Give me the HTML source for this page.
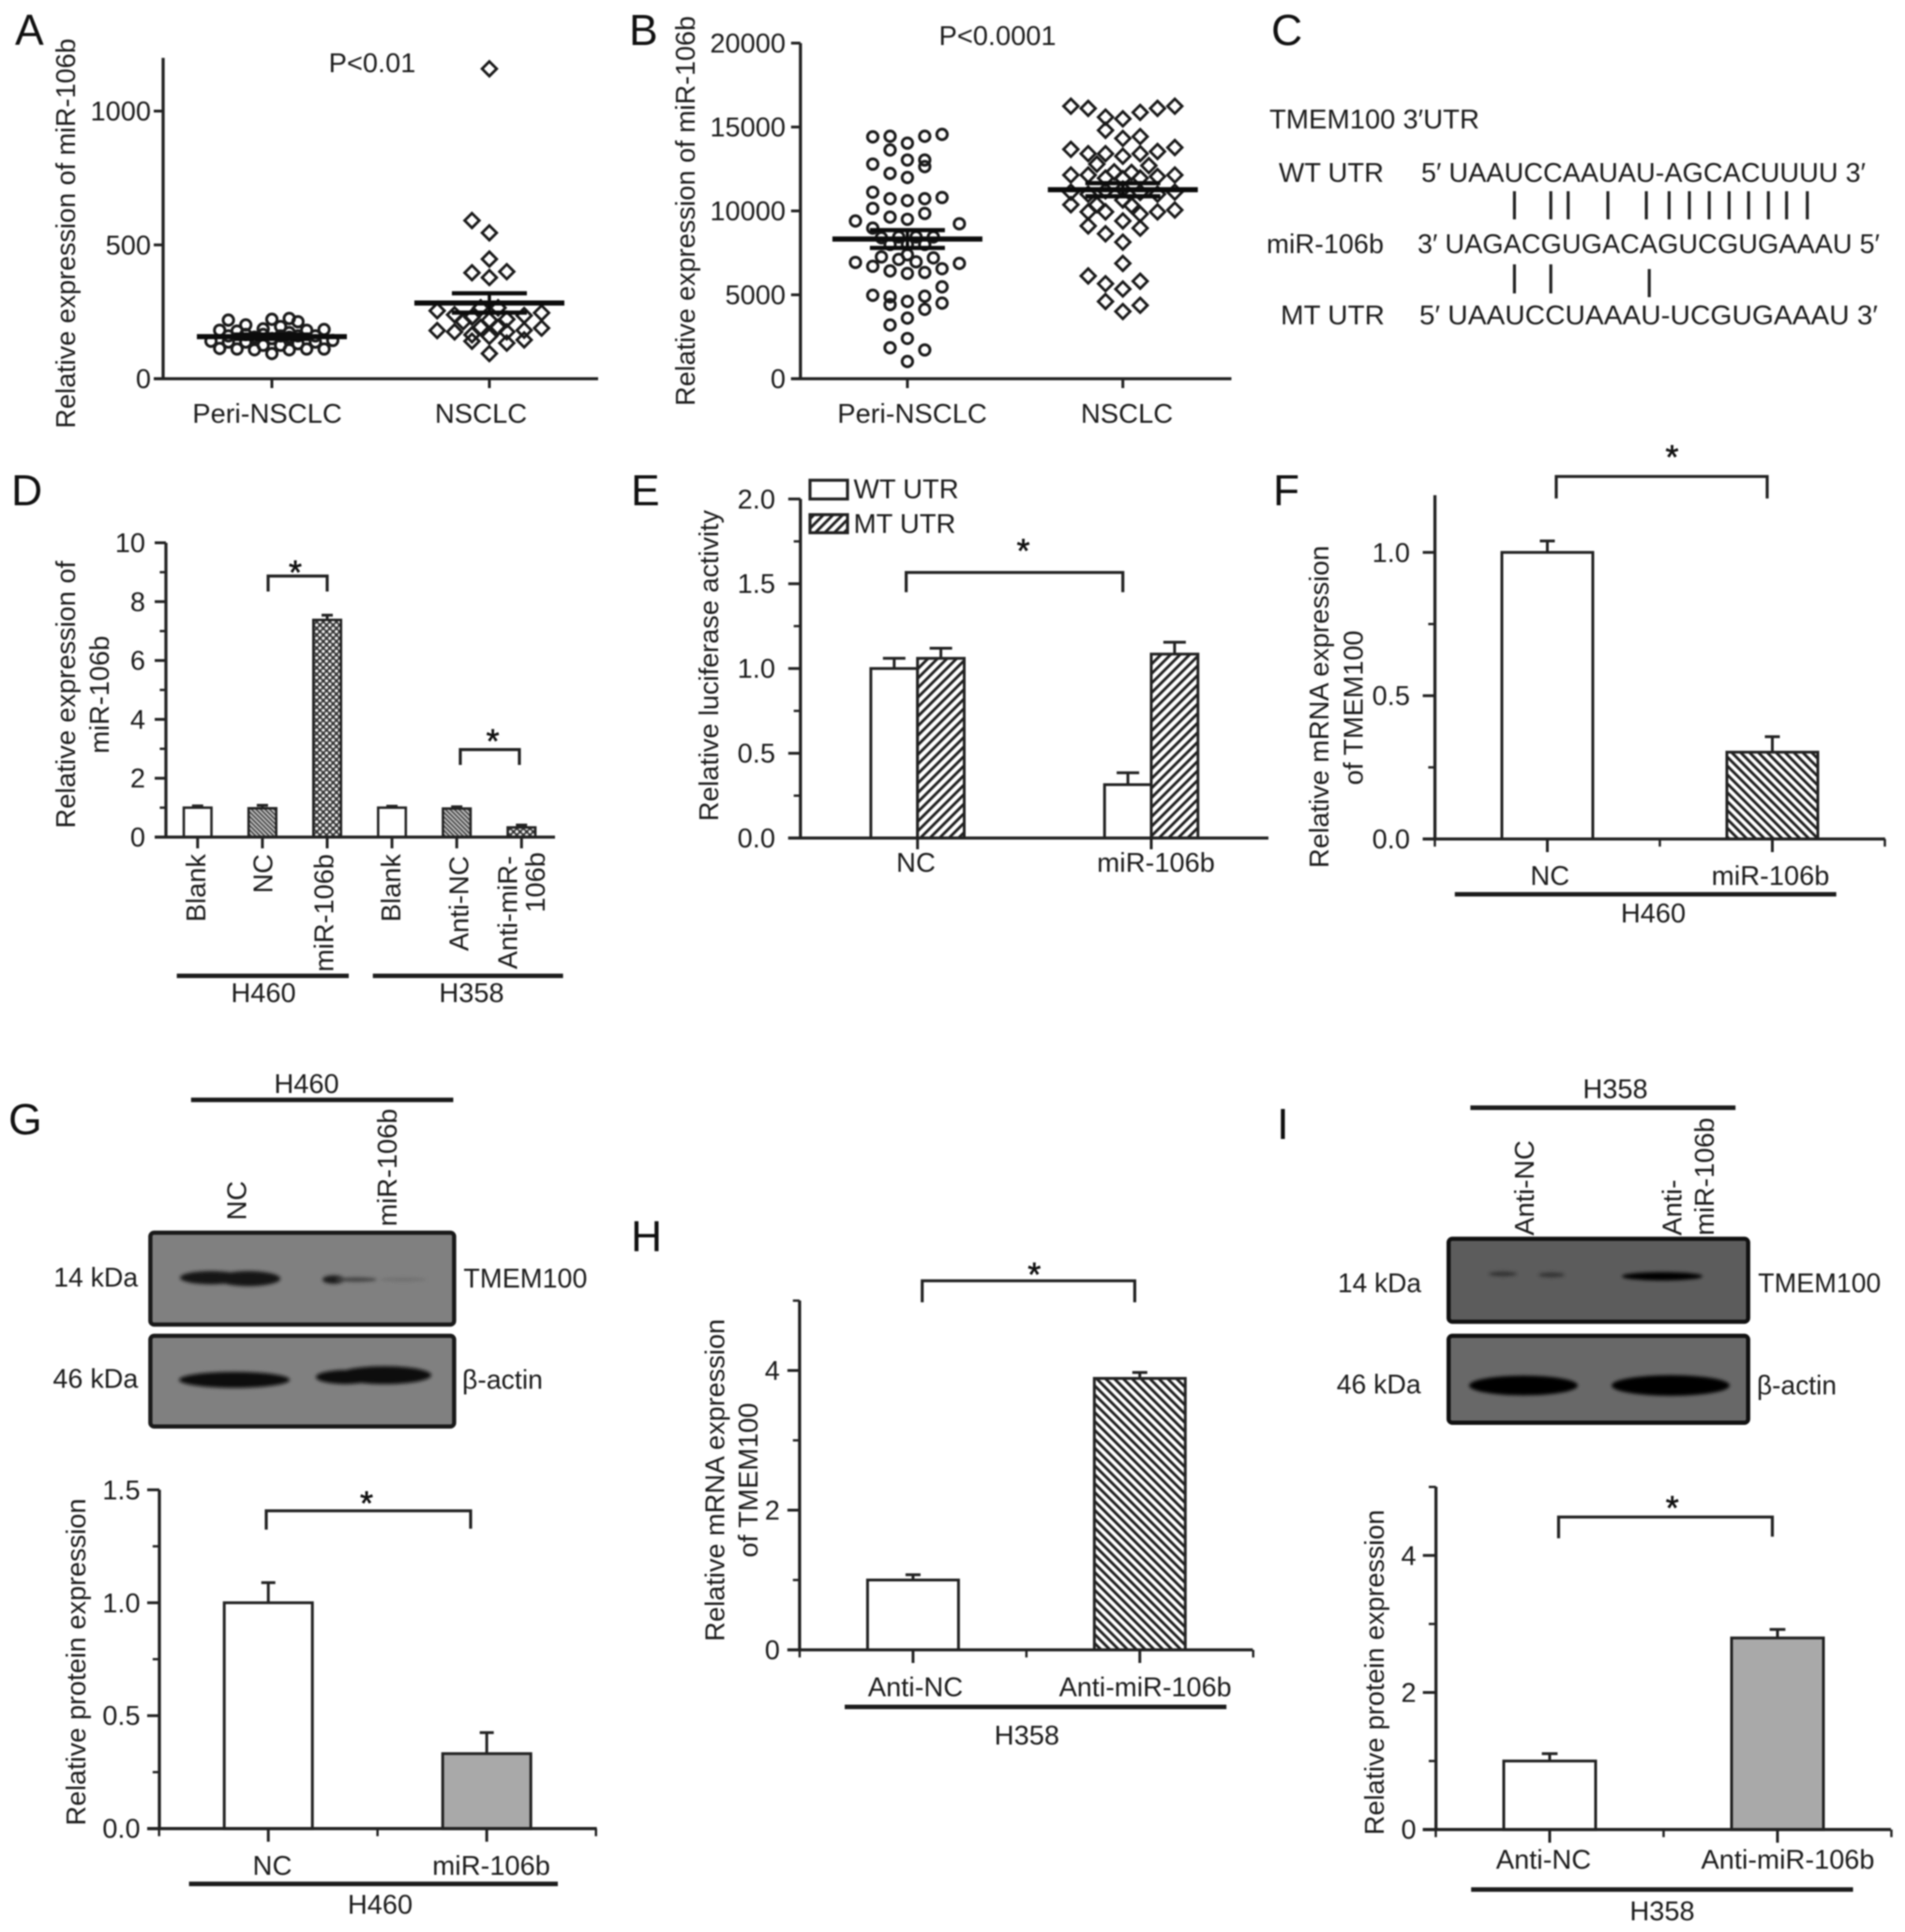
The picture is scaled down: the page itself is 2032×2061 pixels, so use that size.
<!DOCTYPE html>
<html lang="en">
<head>
<meta charset="utf-8">
<title>miR-106b and TMEM100 expression figure</title>
<style>
html,body{margin:0;padding:0;background:#fff;}
body{width:2032px;height:2061px;overflow:hidden;}
svg{display:block;filter:blur(0.75px);}
text{font-family:"Liberation Sans",sans-serif;font-size:29px;fill:#1c1c1c;}
.letter{font-size:46px;fill:#111;}
.star{font-size:36px;fill:#111;stroke:#111;stroke-width:0.6;}
.ln{stroke:#222;stroke-width:3.2;fill:none;}
.group-line{stroke:#1c1c1c;stroke-width:4.8;fill:none;}
.blot1{fill:#808080;stroke:#1a1a1a;stroke-width:4.5;}
.blot2{fill:#5c5c5c;stroke:#111;stroke-width:4.5;}
.blot3{fill:#686868;stroke:#111;stroke-width:4.5;}
</style>
</head>
<body>
<svg id="figure" xmlns="http://www.w3.org/2000/svg" width="2032" height="2061" viewBox="0 0 2032 2061">
<defs>
<pattern id="hatch-back" patternUnits="userSpaceOnUse" width="6.7" height="6.7" patternTransform="rotate(-45)"><rect width="6.7" height="6.7" fill="#fff"/><rect width="3" height="6.7" fill="#222"/></pattern>
<pattern id="hatch-fwd" patternUnits="userSpaceOnUse" width="7.2" height="7.2" patternTransform="rotate(45)"><rect width="7.2" height="7.2" fill="#fff"/><rect width="3" height="7.2" fill="#222"/></pattern>
<pattern id="hatch-fine" patternUnits="userSpaceOnUse" width="3.4" height="3.4" patternTransform="rotate(-45)"><rect width="3.4" height="3.4" fill="#c8c8c8"/><rect width="1.7" height="3.4" fill="#444"/></pattern>
<pattern id="checker" patternUnits="userSpaceOnUse" width="7" height="7"><rect width="7" height="7" fill="#3a3a3a"/><circle cx="1.8" cy="1.8" r="1.7" fill="#ececec"/><circle cx="5.3" cy="5.3" r="1.7" fill="#ececec"/></pattern>
<filter id="band-blur" x="-30%" y="-100%" width="160%" height="300%"><feGaussianBlur stdDeviation="1.8"/></filter>
</defs>

<!-- Panel letters -->
<text class="letter" x="16" y="48">A</text>
<text class="letter" x="671" y="48">B</text>
<text class="letter" x="1356" y="48">C</text>
<text class="letter" x="12" y="539">D</text>
<text class="letter" x="673" y="539">E</text>
<text class="letter" x="1358" y="539">F</text>
<text class="letter" x="9" y="1210">G</text>
<text class="letter" x="673" y="1335">H</text>
<text class="letter" x="1362" y="1215">I</text>

<!-- Panel A static text -->
<g id="panel-a">
<text transform="rotate(-90 80 249)" x="80" y="249" text-anchor="middle" textLength="416" lengthAdjust="spacingAndGlyphs">Relative expression of miR-106b</text>
<text x="397" y="77" text-anchor="middle">P&lt;0.01</text>
<text x="285" y="451" text-anchor="middle">Peri-NSCLC</text>
<text x="513" y="451" text-anchor="middle">NSCLC</text>
</g>

<!-- Panel B static text -->
<g id="panel-b">
<text transform="rotate(-90 741 225)" x="741" y="225" text-anchor="middle" textLength="416" lengthAdjust="spacingAndGlyphs">Relative expression of miR-106b</text>
<text x="1064" y="48" text-anchor="middle">P&lt;0.0001</text>
<text x="973" y="451" text-anchor="middle">Peri-NSCLC</text>
<text x="1202" y="451" text-anchor="middle">NSCLC</text>
</g>

<!-- Panel C sequence alignment -->
<g id="panel-c">
<text x="1354" y="137" textLength="224" lengthAdjust="spacingAndGlyphs">TMEM100 3′UTR</text>
<text x="1364" y="194" textLength="112" lengthAdjust="spacingAndGlyphs">WT UTR</text>
<text x="1516" y="194" textLength="474" lengthAdjust="spacingAndGlyphs">5′ UAAUCCAAUAU-AGCACUUUU 3′</text>
<text x="1351" y="270" textLength="125" lengthAdjust="spacingAndGlyphs">miR-106b</text>
<text x="1512" y="270" textLength="493" lengthAdjust="spacingAndGlyphs">3′ UAGACGUGACAGUCGUGAAAU 5′</text>
<text x="1366" y="346" textLength="111" lengthAdjust="spacingAndGlyphs">MT UTR</text>
<text x="1514" y="346" textLength="489" lengthAdjust="spacingAndGlyphs">5′ UAAUCCUAAAU-UCGUGAAAU 3′</text>
<path class="ln" d="M1615.4 204V234M1654.2 204V234M1672.7 204V234M1715.1 204V234M1756.1 204V234M1780.4 204V234M1802 204V234M1823.2 204V234M1844.4 204V234M1865.2 204V234M1886.3 204V234M1905.7 204V234M1927.8 204V234"/>
<path class="ln" d="M1615.4 282V313M1654.2 282V313M1759.2 287V317"/>
</g>

<!-- Panel D static -->
<g id="panel-d">
<text transform="rotate(-90 80 741)" x="80" y="741" text-anchor="middle">Relative expression of</text>
<text transform="rotate(-90 116 741)" x="116" y="741" text-anchor="middle">miR-106b</text>
<text transform="rotate(-90 219 911)" x="219" y="911" text-anchor="end">Blank</text>
<text transform="rotate(-90 290.5 911)" x="290.5" y="911" text-anchor="end">NC</text>
<text transform="rotate(-90 355.6 911)" x="355.6" y="911" text-anchor="end">miR-106b</text>
<text transform="rotate(-90 427 911)" x="427" y="911" text-anchor="end">Blank</text>
<text transform="rotate(-90 499.6 913)" x="499.6" y="913" text-anchor="end">Anti-NC</text>
<text transform="rotate(-90 551.6 913)" x="551.6" y="913" text-anchor="end">Anti-miR-</text>
<text transform="rotate(-90 581 909)" x="581" y="909" text-anchor="end">106b</text>
<path class="group-line" d="M188.6 1041H372"/>
<path class="group-line" d="M397.7 1041H600.6"/>
<text x="281" y="1069" text-anchor="middle">H460</text>
<text x="503" y="1069" text-anchor="middle">H358</text>
<path class="ln" d="M286 631V614.5H349V631"/>
<text class="star" x="315" y="623" text-anchor="middle">*</text>
<path class="ln" d="M491 816V799.6H554V816"/>
<text class="star" x="525.6" y="803" text-anchor="middle">*</text>
</g>

<!-- Panel E static -->
<g id="panel-e">
<text transform="rotate(-90 766 710)" x="766" y="710" text-anchor="middle" textLength="332" lengthAdjust="spacingAndGlyphs">Relative luciferase activity</text>
<text x="977" y="930" text-anchor="middle">NC</text>
<text x="1233" y="930" text-anchor="middle">miR-106b</text>
<rect x="864" y="512.3" width="40" height="20" fill="#fff" stroke="#222" stroke-width="3.2"/>
<text x="910.5" y="531.7">WT UTR</text>
<rect x="864" y="549" width="40" height="19.3" fill="url(#hatch-fwd)" stroke="#222" stroke-width="3.2"/>
<text x="910.5" y="568.3">MT UTR</text>
<path class="ln" d="M966.6 631.7V610.7H1197.7V631.7"/>
<text class="star" x="1091.5" y="600" text-anchor="middle">*</text>
</g>

<!-- Panel F static -->
<g id="panel-f">
<text transform="rotate(-90 1417 754)" x="1417" y="754" text-anchor="middle" textLength="344" lengthAdjust="spacingAndGlyphs">Relative mRNA expression</text>
<text transform="rotate(-90 1453.4 755)" x="1453.4" y="755" text-anchor="middle" textLength="165" lengthAdjust="spacingAndGlyphs">of TMEM100</text>
<text x="1653.3" y="944" text-anchor="middle">NC</text>
<text x="1888.5" y="944" text-anchor="middle">miR-106b</text>
<path class="group-line" d="M1551.8 954H1958.7"/>
<text x="1763.5" y="984" text-anchor="middle">H460</text>
<path class="ln" d="M1660 531.7V508.3H1885V531.7"/>
<text class="star" x="1783.5" y="500" text-anchor="middle">*</text>
</g>

<!-- Panel G blot -->
<g id="panel-g-blot">
<text x="327" y="1166" text-anchor="middle">H460</text>
<path class="group-line" d="M203.8 1173.3H483.5"/>
<text transform="rotate(-90 262.4 1301.7)" x="262.4" y="1301.7">NC</text>
<text transform="rotate(-90 422.8 1308.3)" x="422.8" y="1308.3">miR-106b</text>
<rect class="blot1" x="160.4" y="1315" width="324" height="98" rx="4"/>
<rect class="blot1" x="160.4" y="1425" width="324" height="96.7" rx="4"/>
<g filter="url(#band-blur)">
<ellipse cx="225" cy="1363" rx="33" ry="7" fill="#121212"/>
<ellipse cx="265" cy="1364" rx="34" ry="8" fill="#121212"/>
<ellipse cx="356" cy="1365" rx="12" ry="4.5" fill="#1a1a1a"/>
<ellipse cx="380" cy="1365" rx="22" ry="2.5" fill="#444"/>
<ellipse cx="430" cy="1365" rx="25" ry="2" fill="#6f6f6f"/>
</g>
<g filter="url(#band-blur)">
<ellipse cx="250" cy="1472" rx="59" ry="8.5" fill="#0e0e0e"/>
<ellipse cx="368" cy="1469" rx="31" ry="7.5" fill="#0e0e0e"/>
<ellipse cx="410" cy="1467" rx="50" ry="9.5" fill="#0e0e0e"/>
</g>
<text x="57.2" y="1372.7" textLength="90" lengthAdjust="spacingAndGlyphs">14 kDa</text>
<text x="56.4" y="1480.7" textLength="91" lengthAdjust="spacingAndGlyphs">46 kDa</text>
<text x="494.4" y="1373.3" textLength="132" lengthAdjust="spacingAndGlyphs">TMEM100</text>
<text x="493" y="1481.7" textLength="86" lengthAdjust="spacingAndGlyphs">β-actin</text>
</g>

<!-- Panel G bar static -->
<g id="panel-g">
<text transform="rotate(-90 91 1773)" x="91" y="1773" text-anchor="middle" textLength="349" lengthAdjust="spacingAndGlyphs">Relative protein expression</text>
<text x="290.5" y="2000" text-anchor="middle">NC</text>
<text x="524" y="2000" text-anchor="middle">miR-106b</text>
<path class="group-line" d="M201.6 2009.7H595"/>
<text x="405.5" y="2041.7" text-anchor="middle">H460</text>
<path class="ln" d="M284 1631.7V1611.7H502V1630.7"/>
<text class="star" x="391" y="1616" text-anchor="middle">*</text>
</g>

<!-- Panel H static -->
<g id="panel-h">
<text transform="rotate(-90 772.5 1579)" x="772.5" y="1579" text-anchor="middle" textLength="344" lengthAdjust="spacingAndGlyphs">Relative mRNA expression</text>
<text transform="rotate(-90 808 1579)" x="808" y="1579" text-anchor="middle" textLength="165" lengthAdjust="spacingAndGlyphs">of TMEM100</text>
<text x="976.5" y="1809.3" text-anchor="middle">Anti-NC</text>
<text x="1221.6" y="1809.3" text-anchor="middle" textLength="184" lengthAdjust="spacingAndGlyphs">Anti-miR-106b</text>
<path class="group-line" d="M901 1820.9H1308.2"/>
<text x="1095.3" y="1861" text-anchor="middle">H358</text>
<path class="ln" d="M983.7 1389.3V1366.3H1210.4V1389.3"/>
<text class="star" x="1103.3" y="1372" text-anchor="middle">*</text>
</g>

<!-- Panel I blot -->
<g id="panel-i-blot">
<text x="1723" y="1171.7" text-anchor="middle">H358</text>
<path class="group-line" d="M1568.4 1181.7H1851.2"/>
<text transform="rotate(-90 1636 1318)" x="1636" y="1318">Anti-NC</text>
<text transform="rotate(-90 1793.4 1318)" x="1793.4" y="1318">Anti-</text>
<text transform="rotate(-90 1828 1318)" x="1828" y="1318">miR-106b</text>
<rect class="blot2" x="1545.2" y="1321.5" width="319.5" height="88.5" rx="4"/>
<rect class="blot3" x="1545.2" y="1425" width="319.5" height="92.7" rx="4"/>
<g filter="url(#band-blur)">
<ellipse cx="1603" cy="1359" rx="15" ry="2.5" fill="#333"/>
<ellipse cx="1655" cy="1360" rx="14" ry="2.5" fill="#333"/>
<ellipse cx="1773" cy="1361.5" rx="43" ry="4.5" fill="#050505"/>
</g>
<g filter="url(#band-blur)">
<ellipse cx="1625" cy="1478" rx="58" ry="10.5" fill="#000"/>
<ellipse cx="1782" cy="1478" rx="63" ry="11" fill="#000"/>
</g>
<text x="1427" y="1378.3" textLength="89" lengthAdjust="spacingAndGlyphs">14 kDa</text>
<text x="1425.7" y="1486.7" textLength="90" lengthAdjust="spacingAndGlyphs">46 kDa</text>
<text x="1875.3" y="1378.3" textLength="131" lengthAdjust="spacingAndGlyphs">TMEM100</text>
<text x="1874" y="1487.3" textLength="85" lengthAdjust="spacingAndGlyphs">β-actin</text>
</g>

<!-- Panel I bar static -->
<g id="panel-i">
<text transform="rotate(-90 1476 1784)" x="1476" y="1784" text-anchor="middle" textLength="347" lengthAdjust="spacingAndGlyphs">Relative protein expression</text>
<text x="1646.5" y="1993.3" text-anchor="middle">Anti-NC</text>
<text x="1907" y="1993.3" text-anchor="middle" textLength="185" lengthAdjust="spacingAndGlyphs">Anti-miR-106b</text>
<path class="group-line" d="M1569.2 2015.7H1976.6"/>
<text x="1773" y="2048.3" text-anchor="middle">H358</text>
<path class="ln" d="M1662.5 1641V1618.3H1890.5V1639.3"/>
<text class="star" x="1783.7" y="1621" text-anchor="middle">*</text>
</g>
</svg>

<script>
/* ---------- Panel A data ---------- */
const aPeriValues = [219,201,222,225,213,181,178,186,195,172,181,184,113,111,108,94,108,111,111,140,137,137,125,125,131,137,143,155,150,155,165,160,165,160,160,160];
const aPeriColumns = [-5,-3,0,2,3,-6,-4,-1,1,2,4,6,-6,-4,-2,0,2,4,6,-7,-5,-3,-1,1,3,5,7,-2,0,2,-1,1,-3,3,-5,5];
const aTumorValues = [1158,591,545,447,396,400,378,254,246,239,236,230,222,219,213,265,265,180,175,189,181,192,192,164,175,158,140,133,145,94];
const aTumorColumns = [0,-2,0,0,-2,2,0,-6,6,-4,4,-2,2,0,-3,-1,1,-6,-4,6,4,-1,1,-2,2,0,-2,2,4,0];
const aSummaryMean = [157,283];
const aSummarySem = [8,36];
const aTickValues = [0,500,1000];
const aTickLabels = ['0','500','1000'];

/* ---------- Panel B data ---------- */
const bPeriValues = [14413,14450,14040,14450,14560,13630,12790,13035,13035,12640,12235,11990,11115,10725,10615,10725,10800,10150,9630,9500,9850,9400,9235,8975,8400,8450,8450,8450,8000,8000,8000,7260,7110,7390,6965,7200,6930,6700,6870,6555,6425,6275,6330,5475,4970,4880,4915,4600,4415,4505,4135,3610,3200,2400,1845,1715,1025];
const bPeriColumns = [-4,-2,0,2,4,-2,-4,0,2,2,-2,0,-4,-2,0,2,4,-4,-2,0,2,-6,6,-4,-3,-1,1,3,-2,0,2,-3,-1,0,1,3,-6,-4,6,4,-2,0,2,4,-4,-2,2,0,-2,4,2,0,-2,0,-2,2,0];
const bTumorValues = [16240,16110,15590,15490,15870,16110,16240,14805,14320,14430,13670,13410,13410,13260,13410,13540,13780,12790,12700,12140,12140,12330,12290,11955,11920,11955,12050,12140,11120,11120,11000,11200,11300,11100,11000,10370,10370,10650,10335,9945,9945,9815,9945,10055,9105,9400,8975,8640,8140,6870,6125,5660,5810,5345,4600,4375,4005];
const bTumorColumns = [-6,-4,-2,0,2,4,6,-2,0,2,-6,-4,-2,0,2,4,6,-3,3,-6,-4,-1,1,-2,0,2,4,6,-6,6,-4,-2,0,2,4,-6,-3,0,1,-4,-2,2,4,6,-4,0,2,-2,0,0,-4,-2,2,0,-2,2,0];
const bSummaryMean = [8324,11266];
const bSummarySem = [530,390];
const bTickValues = [0,5000,10000,15000,20000];
const bTickLabels = ['0','5000','10000','15000','20000'];

/* ---------- Panel D data ---------- */
const dCategories = ['Blank H460','NC','miR-106b','Blank H358','Anti-NC','Anti-miR-106b'];
const dValues = [1.0,0.98,7.38,1.0,0.97,0.33];
const dErrors = [0.06,0.10,0.16,0.05,0.06,0.08];
const dFills = ['#fff','url(#hatch-fine)','url(#checker)','#fff','url(#hatch-fine)','url(#checker)'];
const dTickValues = [0,2,4,6,8,10];
const dTickLabels = ['0','2','4','6','8','10'];
const dMinorValues = [1,3,5,7,9];

/* ---------- Panel E data ---------- */
const eCategories = ['NC','miR-106b'];
const eWtValues = [1.0,0.315];
const eWtErrors = [0.06,0.07];
const eMtValues = [1.06,1.085];
const eMtErrors = [0.06,0.07];
const eTickValues = [0,0.5,1,1.5,2];
const eTickLabels = ['0.0','0.5','1.0','1.5','2.0'];
const eMinorValues = [0.25,0.75,1.25,1.75];

/* ---------- Panel F data ---------- */
const fCategories = ['NC','miR-106b'];
const fValues = [1.0,0.303];
const fErrors = [0.04,0.054];
const fFills = ['#fff','url(#hatch-back)'];
const fTickValues = [0,0.5,1];
const fTickLabels = ['0.0','0.5','1.0'];
const fMinorValues = [0.25,0.75];

/* ---------- Panel G data ---------- */
const gCategories = ['NC','miR-106b'];
const gValues = [1.0,0.332];
const gErrors = [0.089,0.093];
const gFills = ['#fff','#a9a9a9'];
const gTickValues = [0,0.5,1,1.5];
const gTickLabels = ['0.0','0.5','1.0','1.5'];
const gMinorValues = [0.25,0.75,1.25];

/* ---------- Panel H data ---------- */
const hCategories = ['Anti-NC','Anti-miR-106b'];
const hValues = [1.0,3.887];
const hErrors = [0.075,0.085];
const hFills = ['#fff','url(#hatch-back)'];
const hTickValues = [0,2,4];
const hTickLabels = ['0','2','4'];
const hMinorValues = [1,3,5];

/* ---------- Panel I data ---------- */
const iCategories = ['Anti-NC','Anti-miR-106b'];
const iValues = [1.0,2.796];
const iErrors = [0.108,0.124];
const iFills = ['#fff','#a9a9a9'];
const iTickValues = [0,2,4];
const iTickLabels = ['0','2','4'];
const iMinorValues = [1,3,5];

const SVG_NS = 'http://www.w3.org/2000/svg';
const INK = '#222';

function slug(s){ return String(s).toLowerCase().replace(/[^a-z0-9]+/g,'-'); }
function linearY(y0, yRef, vRef){ const k = (y0 - yRef) / vRef; return function(v){ return y0 - v * k; }; }
function make(tag, attrs, parent){
  const node = document.createElementNS(SVG_NS, tag);
  for (const key in attrs) node.setAttribute(key, attrs[key]);
  parent.appendChild(node);
  return node;
}

function drawAxes(panelId, c){
  const g = document.getElementById(panelId);
  const yLine = make('line', {x1:c.axisX, x2:c.axisX, y1:c.top, y2:c.y(0), stroke:INK, 'stroke-width':3.3}, g);
  
  
  const xLine = make('line', {x1:c.axisX - c.tick, x2:c.right, y1:c.y(0), y2:c.y(0), stroke:INK, 'stroke-width':3.3}, g);
  
  
  c.tickValues.forEach(function(v, i){
    const t = make('line', {x1:c.axisX - c.tick, x2:c.axisX, y1:c.y(v), y2:c.y(v), stroke:INK, 'stroke-width':3}, g);
    
    
    if (i < c.tickLabels.length){
      const label = make('text', {x:c.labelRight, y:c.y(v) + 10, 'text-anchor':'end'}, g);
      label.textContent = c.tickLabels[i];
      
      
    }
  });
  (c.minorValues || []).forEach(function(v){
    const t = make('line', {x1:c.axisX - c.tick * 0.55, x2:c.axisX, y1:c.y(v), y2:c.y(v), stroke:INK, 'stroke-width':2.5}, g);
    
    
  });
  for (let i = 0; i < c.count; i++){
    const x = c.x(i);
    const t = make('line', {x1:x, x2:x, y1:c.y(0), y2:c.y(0) + c.xTick, stroke:INK, 'stroke-width':3}, g);
    
    
  }
  if (c.halfTicks){
    for (let i = 0; i <= c.count; i++){
      const x = c.x(i - 0.5);
      const t = make('line', {x1:x, x2:x, y1:c.y(0), y2:c.y(0) + c.xTick * 0.58, stroke:INK, 'stroke-width':2.5}, g);
      
      
    }
  }
}

function drawBar(g, panelId, name, left, width, value, error, fill, capHalf, yFn, strokeW){
  const mid = left + width / 2;
  const stem = make('line', {x1:mid, x2:mid, y1:yFn(value), y2:yFn(value + error), stroke:INK, 'stroke-width':3}, g);
  
  
  const cap = make('line', {x1:mid - capHalf, x2:mid + capHalf, y1:yFn(value + error), y2:yFn(value + error), stroke:INK, 'stroke-width':3}, g);
  
  
  const bar = make('rect', {x:left, y:yFn(value), width:width, height:yFn(0) - yFn(value), fill:fill, stroke:INK, 'stroke-width':strokeW}, g);
  
  
}

function drawBars(panelId, c, categories, values, errors, fills){
  const g = document.getElementById(panelId);
  categories.forEach(function(cat, i){
    drawBar(g, panelId, cat, c.x(i) - c.barWidth / 2, c.barWidth, values[i], errors[i], fills[i], c.cap, c.y, c.barStroke);
  });
}

function drawSwarm(panelId, groupName, shape, center, slot, yFn, values, columns){
  const g = document.getElementById(panelId);
  values.forEach(function(v, i){
    const cx = center + columns[i] * slot;
    const cy = yFn(v);
    let mark;
    if (shape === 'circle'){
      mark = make('circle', {cx:cx, cy:cy, r:5.6, fill:'none', stroke:'#1a1a1a', 'stroke-width':3}, g);
    } else {
      const d = 7.8;
      mark = make('polygon', {points:(cx)+','+(cy-d)+' '+(cx+d)+','+cy+' '+cx+','+(cy+d)+' '+(cx-d)+','+cy, fill:'none', stroke:'#1a1a1a', 'stroke-width':2.9}, g);
    }
    
    
  });
}

function drawSummary(panelId, groupName, center, yFn, mean, sem){
  const g = document.getElementById(panelId);
  const m = make('line', {x1:center - 80, x2:center + 80, y1:yFn(mean), y2:yFn(mean), stroke:'#0c0c0c', 'stroke-width':5.5}, g);
  
  
  const up = make('line', {x1:center - 40, x2:center + 40, y1:yFn(mean + sem), y2:yFn(mean + sem), stroke:'#0c0c0c', 'stroke-width':4.5}, g);
  
  
  const low = make('line', {x1:center - 40, x2:center + 40, y1:yFn(mean - sem), y2:yFn(mean - sem), stroke:'#0c0c0c', 'stroke-width':4.5}, g);
  
  
  const stem = make('line', {x1:center, x2:center, y1:yFn(mean + sem), y2:yFn(mean - sem), stroke:'#0c0c0c', 'stroke-width':3.5}, g);
  
  
}

/* Panel A */
(function(){
  const y = linearY(404, 118.5, 1000);
  const x = function(i){ return 290 + i * 232; };
  drawAxes('panel-a', {axisX:174, top:61.7, right:638, tick:10, xTick:10, labelRight:161, y:y, x:x, count:2,
    tickValues:aTickValues, tickLabels:aTickLabels});
  drawSwarm('panel-a', 'peri-nsclc', 'circle', x(0), 9.28, y, aPeriValues, aPeriColumns);
  drawSwarm('panel-a', 'nsclc', 'diamond', x(1), 9.28, y, aTumorValues, aTumorColumns);
  drawSummary('panel-a', 'peri-nsclc', x(0), y, aSummaryMean[0], aSummarySem[0]);
  drawSummary('panel-a', 'nsclc', x(1), y, aSummaryMean[1], aSummarySem[1]);
})();

/* Panel B */
(function(){
  const y = linearY(404, 46, 20000);
  const x = function(i){ return 967.9 + i * 229.8; };
  drawAxes('panel-b', {axisX:853.8, top:46, right:1313.5, tick:10, xTick:10, labelRight:838, y:y, x:x, count:2,
    tickValues:bTickValues, tickLabels:bTickLabels});
  drawSwarm('panel-b', 'peri-nsclc', 'circle', x(0), 9.24, y, bPeriValues, bPeriColumns);
  drawSwarm('panel-b', 'nsclc', 'diamond', x(1), 9.24, y, bTumorValues, bTumorColumns);
  drawSummary('panel-b', 'peri-nsclc', x(0), y, bSummaryMean[0], bSummarySem[0]);
  drawSummary('panel-b', 'nsclc', x(1), y, bSummaryMean[1], bSummarySem[1]);
})();

/* Panel D */
(function(){
  const y = linearY(893, 579, 10);
  const x = function(i){ return 210.8 + i * 69.1; };
  const cfg = {axisX:177, top:579, right:592, tick:12, xTick:12, labelRight:155, y:y, x:x, count:dCategories.length,
    tickValues:dTickValues, tickLabels:dTickLabels, minorValues:dMinorValues, barWidth:29.5, cap:6, barStroke:2.6};
  drawBars('panel-d', cfg, dCategories, dValues, dErrors, dFills);
  drawAxes('panel-d', cfg);
})();

/* Panel E */
(function(){
  const y = linearY(894, 532.3, 2);
  const x = function(i){ return 978.7 + i * 249.3; };
  const g = document.getElementById('panel-e');
  const w = 49.8;
  eCategories.forEach(function(cat, i){
    drawBar(g, 'panel-e', 'wt-utr-' + cat, x(i) - w, w, eWtValues[i], eWtErrors[i], '#fff', 12, y, 3);
    drawBar(g, 'panel-e', 'mt-utr-' + cat, x(i), w, eMtValues[i], eMtErrors[i], 'url(#hatch-fwd)', 12, y, 3);
  });
  drawAxes('panel-e', {axisX:853.8, top:532.3, right:1353, tick:13, xTick:12, labelRight:827, y:y, x:x, count:2,
    tickValues:eTickValues, tickLabels:eTickLabels, minorValues:eMinorValues});
})();

/* Panel F */
(function(){
  const y = linearY(895, 589.3, 1);
  const x = function(i){ return 1650.5 + i * 240; };
  const cfg = {axisX:1530.6, top:528.3, right:2010.8, tick:13, xTick:14, labelRight:1504, y:y, x:x, count:2, halfTicks:true,
    tickValues:fTickValues, tickLabels:fTickLabels, minorValues:fMinorValues, barWidth:97, cap:8, barStroke:3};
  drawBars('panel-f', cfg, fCategories, fValues, fErrors, fFills);
  drawAxes('panel-f', cfg);
})();

/* Panel G */
(function(){
  const y = linearY(1950.7, 1589.3, 1.5);
  const x = function(i){ return 286.2 + i * 233; };
  const cfg = {axisX:170, top:1589.3, right:636.6, tick:13, xTick:14, labelRight:149.6, y:y, x:x, count:2, halfTicks:true,
    tickValues:gTickValues, tickLabels:gTickLabels, minorValues:gMinorValues, barWidth:94, cap:7.5, barStroke:3};
  drawBars('panel-g', cfg, gCategories, gValues, gErrors, gFills);
  drawAxes('panel-g', cfg);
})();

/* Panel H */
(function(){
  const y = linearY(1760, 1462, 4);
  const x = function(i){ return 973.9 + i * 241.9; };
  const cfg = {axisX:852.9, top:1387.4, right:1336.3, tick:13, xTick:14, labelRight:831.9, y:y, x:x, count:2, halfTicks:true,
    tickValues:hTickValues, tickLabels:hTickLabels, minorValues:hMinorValues, barWidth:97, cap:8, barStroke:3};
  drawBars('panel-h', cfg, hCategories, hValues, hErrors, hFills);
  drawAxes('panel-h', cfg);
})();

/* Panel I */
(function(){
  const y = linearY(1951.7, 1659.3, 4);
  const x = function(i){ return 1653 + i * 243; };
  const cfg = {axisX:1531.7, top:1586, right:2017, tick:14, xTick:14, labelRight:1510.6, y:y, x:x, count:2, halfTicks:true,
    tickValues:iTickValues, tickLabels:iTickLabels, minorValues:iMinorValues, barWidth:98, cap:8.4, barStroke:3};
  drawBars('panel-i', cfg, iCategories, iValues, iErrors, iFills);
  drawAxes('panel-i', cfg);
})();
</script>
</body>
</html>
